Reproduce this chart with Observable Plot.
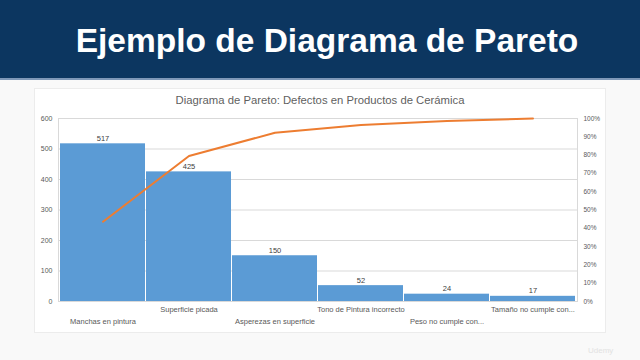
<!DOCTYPE html>
<html><head><meta charset="utf-8">
<script src="https://cdn.jsdelivr.net/npm/d3@7"></script>
<script src="https://cdn.jsdelivr.net/npm/@observablehq/plot@0.6"></script>
<style>
html,body{margin:0;padding:0}
body{width:640px;height:360px;background:#f9f9f9;position:relative;overflow:hidden;font-family:"Liberation Sans",Arial,sans-serif}
#header{position:absolute;left:0;top:0;width:640px;height:78px;background:#0c3660;border-bottom:2px solid #7f98b8}
#header div{position:absolute;left:0;width:654px;top:24px;line-height:33.5px;font-size:33.5px;font-weight:bold;color:#fff;text-align:center;white-space:nowrap}
#box{position:absolute;left:35px;top:89px;width:570px;height:243px;background:#fff;box-shadow:0 0 0 1px #ececec}
#ctitle{position:absolute;left:0;width:570px;top:5px;text-align:center;font-size:11.3px;color:#5f5f5f;white-space:nowrap}
#chart{position:absolute;left:0;top:0}
#wm{position:absolute;left:588px;top:346px;font-size:8px;color:#e2e2e2}
</style></head>
<body>
<div id="header"><div>Ejemplo de Diagrama de Pareto</div></div>
<div id="box"><div id="chart"></div><div id="ctitle">Diagrama de Pareto: Defectos en Productos de Cerámica</div></div>
<div id="wm">Udemy</div>
<script>
const categories = ["Manchas en pintura","Superficie picada","Asperezas en superficie","Tono de Pintura incorrecto","Peso no cumple con...","Tamaño no cumple con..."];
const counts = [517, 425, 150, 52, 24, 17];
const cumulativePct = [43.6, 79.5, 92.2, 96.5, 98.6, 100];
const leftTicks = [0, 100, 200, 300, 400, 500, 600];
const pctTicks = [0, 10, 20, 30, 40, 50, 60, 70, 80, 90, 100];

const data = categories.map((c, i) => ({cat: c, count: counts[i], pct: cumulativePct[i], row: i % 2}));
const font = "Liberation Sans, Arial, sans-serif";

const chart = Plot.plot({
  width: 570, height: 243,
  marginLeft: 23, marginRight: 28, marginTop: 29, marginBottom: 31,
  style: {fontFamily: font, background: "transparent"},
  x: {domain: categories, paddingInner: 0.012, paddingOuter: 0, axis: null},
  y: {domain: [0, 600], axis: null},
  marks: [
    Plot.ruleY(leftTicks, {stroke: "#d9d9d9", strokeWidth: 1}),
    Plot.frame({stroke: "#d9d9d9"}),
    Plot.barY(data, {x: "cat", y: "count", fill: "#5b9bd5"}),
    Plot.text(data, {x: "cat", y: "count", text: d => String(d.count), dy: -5.5, fontSize: 7.5, fill: "#404040"}),
    Plot.line(data, {x: "cat", y: d => d.pct * 6, stroke: "#ed7d31", strokeWidth: 2}),
    Plot.axisY({ticks: leftTicks, tickSize: 0, tickPadding: 6, fontSize: 7, color: "#595959", label: null}),
    Plot.axisY({anchor: "right", ticks: pctTicks.map(p => p * 6), tickFormat: d => Math.round(d / 6) + "%", tickSize: 0, tickPadding: 6, fontSize: 6.5, color: "#595959", label: null}),
    Plot.text(data.filter(d => d.row === 1), {x: "cat", frameAnchor: "bottom", text: "cat", dy: 10, fontSize: 7.5, fill: "#595959"}),
    Plot.text(data.filter(d => d.row === 0), {x: "cat", frameAnchor: "bottom", text: "cat", dy: 22, fontSize: 7.5, fill: "#595959"})
  ]
});
document.getElementById("chart").appendChild(chart);
</script>
</body></html>
